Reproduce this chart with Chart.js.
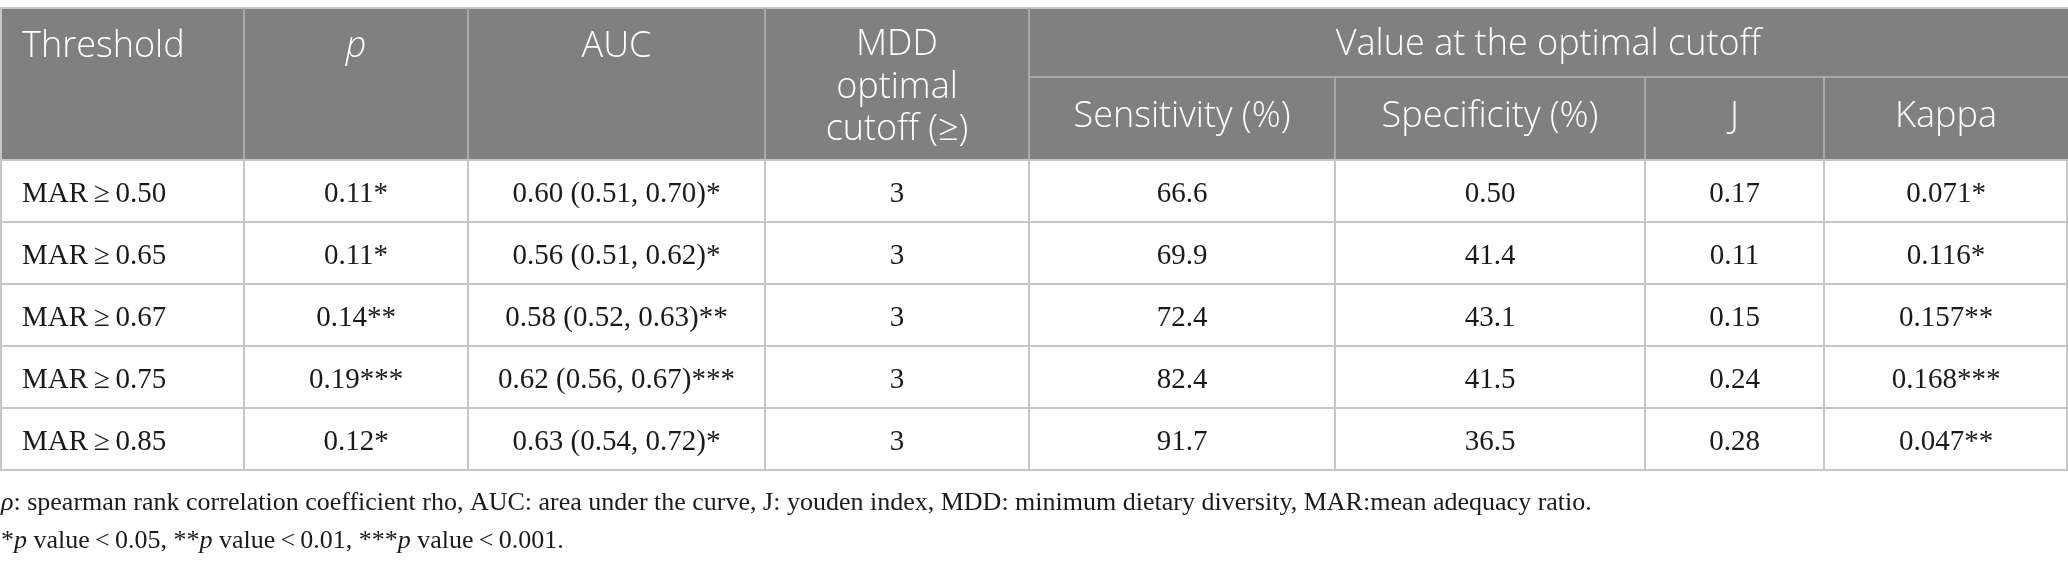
<!DOCTYPE html>
<html><head><meta charset="utf-8">
<script src="https://cdn.jsdelivr.net/npm/chart.js@4/dist/chart.umd.min.js"></script>
<style>html,body{margin:0;padding:0;background:#fff;overflow:hidden}canvas{display:block}</style>
</head><body>
<canvas id="c" width="2068" height="567"></canvas>
<script>
// ---- data ----
const thresholds = ['MAR\u2009\u2265\u20090.50','MAR\u2009\u2265\u20090.65','MAR\u2009\u2265\u20090.67','MAR\u2009\u2265\u20090.75','MAR\u2009\u2265\u20090.85'];
const rhoValues = ['0.11*','0.11*','0.14**','0.19***','0.12*'];
const aucValues = ['0.60 (0.51, 0.70)*','0.56 (0.51, 0.62)*','0.58 (0.52, 0.63)**','0.62 (0.56, 0.67)***','0.63 (0.54, 0.72)*'];
const mddCutoff = ['3','3','3','3','3'];
const sensitivity = ['66.6','69.9','72.4','82.4','91.7'];
const specificity = ['0.50','41.4','43.1','41.5','36.5'];
const youdenJ = ['0.17','0.11','0.15','0.24','0.28'];
const kappa = ['0.071*','0.116*','0.157**','0.168***','0.047**'];
const headerTop = [[['Threshold',false]], [['p',true]], [['AUC',false]]];
const mddHeaderLines = ['MDD','optimal','cutoff (\u2265)'];
const groupHeader = 'Value at the optimal cutoff';
const subHeaders = ['Sensitivity (%)','Specificity (%)','J','Kappa'];
const footnote1 = [['\u03c1',true],[': spearman rank correlation coefficient rho, AUC: area under the curve, J: youden index, MDD: minimum dietary diversity, MAR:mean adequacy ratio.',false]];
const footnote2 = [['*',false],['p',true],[' value\u2009<\u20090.05, **',false],['p',true],[' value\u2009<\u20090.01, ***',false],['p',true],[' value\u2009<\u20090.001.',false]];

// ---- layout (table geometry in axis units) ----
const colEdges = [0,244,468,765,1029,1335,1645,1824,2068];
const tableTop = 8, subLine = 77, headerBottom = 160, rowH = 62;
const SANS = '"Open Sans", "Noto Sans", sans-serif';
const SERIF = '"Liberation Serif", "DejaVu Serif", serif';

function drawRuns(ctx, runs, x, y, align, size, family, weight){
  const fontFor = it => (it ? 'italic ' : '') + (weight||'normal') + ' ' + size + 'px ' + family;
  let total = 0;
  runs.forEach(r => { ctx.font = fontFor(r[1]); total += ctx.measureText(r[0]).width; });
  let cx = align === 'center' ? x - total/2 : x;
  ctx.textAlign = 'left';
  runs.forEach(r => { ctx.font = fontFor(r[1]); ctx.fillText(r[0], cx, y); cx += ctx.measureText(r[0]).width; });
}

const tablePlugin = {
  id: 'tablePlugin',
  afterDraw(chart){
    const ctx = chart.ctx, xs = chart.scales.x, ys = chart.scales.y;
    const X = v => xs.getPixelForValue(v), Y = v => ys.getPixelForValue(v);
    const nRows = thresholds.length;
    const tableBottom = headerBottom + nRows*rowH;
    ctx.save();
    // header background
    ctx.fillStyle = '#808080';
    ctx.fillRect(X(0), Y(tableTop), X(2068)-X(0), Y(headerBottom)-Y(tableTop));
    // top border
    ctx.fillStyle = '#c4c4c4';
    ctx.fillRect(X(0), Y(tableTop)-1, X(2068)-X(0), 2);
    // header vertical lines
    ctx.fillStyle = '#a8a8a8';
    colEdges.forEach((e,i) => {
      if (i === 0 || i === colEdges.length-1) return;
      const top = (i >= 5) ? subLine : tableTop;
      ctx.fillRect(X(e)-1, Y(top), 2, Y(headerBottom)-Y(top));
    });
    ctx.fillRect(X(colEdges[4]), Y(subLine)-1, X(2068)-X(colEdges[4]), 2);
    // body grid
    ctx.fillStyle = '#c6c6c6';
    for (let r = 0; r <= nRows; r++) {
      ctx.fillRect(X(0), Y(headerBottom + r*rowH)-1, X(2068)-X(0), 2);
    }
    colEdges.forEach((e,i) => {
      const px = i === 0 ? X(e) : (i === colEdges.length-1 ? X(e)-2 : X(e)-1);
      ctx.fillRect(px, Y(headerBottom), 2, Y(tableBottom)-Y(headerBottom));
    });
    ctx.fillRect(X(0), Y(tableTop), 2, Y(headerBottom)-Y(tableTop));

    // header text
    ctx.fillStyle = '#ffffff';
    ctx.textBaseline = 'alphabetic';
    const hs = 36, hw = '300';
    drawRuns(ctx, headerTop[0], X(22), Y(57), 'left', hs, SANS, hw);
    drawRuns(ctx, headerTop[1], (X(colEdges[1])+X(colEdges[2]))/2, Y(57), 'center', hs, SANS, hw);
    drawRuns(ctx, headerTop[2], (X(colEdges[2])+X(colEdges[3]))/2, Y(57), 'center', hs, SANS, hw);
    mddHeaderLines.forEach((t,i) => drawRuns(ctx, [[t,false]], (X(colEdges[3])+X(colEdges[4]))/2, Y(55 + i*42.5), 'center', hs, SANS, hw));
    drawRuns(ctx, [[groupHeader,false]], (X(colEdges[4])+X(colEdges[8]))/2, Y(55), 'center', hs, SANS, hw);
    subHeaders.forEach((t,i) => drawRuns(ctx, [[t,false]], (X(colEdges[4+i])+X(colEdges[5+i]))/2, Y(127), 'center', hs, SANS, hw));

    // body text
    ctx.fillStyle = '#1a1a1a';
    const cols = [thresholds, rhoValues, aucValues, mddCutoff, sensitivity, specificity, youdenJ, kappa];
    const ds = 29;
    for (let r = 0; r < nRows; r++) {
      const by = Y(headerBottom + r*rowH + 42);
      cols.forEach((arr,c) => {
        if (c === 0) drawRuns(ctx, [[arr[r],false]], X(22), by, 'left', ds, SERIF);
        else drawRuns(ctx, [[arr[r],false]], (X(colEdges[c])+X(colEdges[c+1]))/2, by, 'center', ds, SERIF);
      });
    }
    // footnotes
    drawRuns(ctx, footnote1, X(1), Y(510), 'left', 26, SERIF);
    drawRuns(ctx, footnote2, X(1), Y(548), 'left', 26, SERIF);
    ctx.restore();
  }
};

new Chart(document.getElementById('c'), {
  type: 'scatter',
  data: { datasets: [{ data: [], pointRadius: 0 }] },
  options: {
    responsive: false, animation: false, devicePixelRatio: 1,
    layout: { padding: 0 },
    plugins: { legend: { display: false }, tooltip: { enabled: false } },
    scales: {
      x: { type: 'linear', min: 0, max: 2068, display: false },
      y: { type: 'linear', min: 0, max: 567, reverse: true, display: false }
    }
  },
  plugins: [tablePlugin]
});
</script>
</body></html>
